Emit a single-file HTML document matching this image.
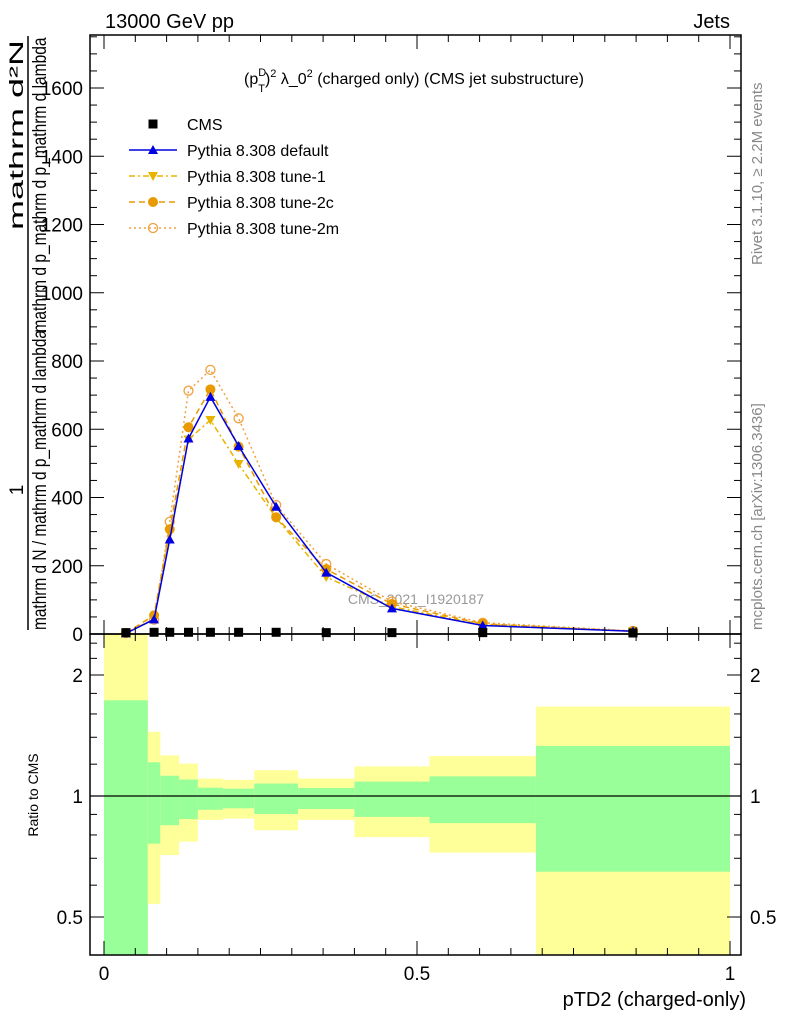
<!DOCTYPE html>
<html><head><meta charset="utf-8"><style>
body{margin:0;background:#fff;font-family:"Liberation Sans",sans-serif}
svg text{font-family:"Liberation Sans",sans-serif}
</style></head><body>
<svg id="c" width="786" height="1024" xmlns="http://www.w3.org/2000/svg">
<text x="105" y="28" font-size="20">13000 GeV pp</text>
<text x="730" y="28" font-size="20" text-anchor="end">Jets</text>
<text x="414" y="84" font-size="16" text-anchor="middle">(p<tspan font-size="11" dy="-8">D</tspan><tspan font-size="11" dx="-8" dy="16">T</tspan><tspan dy="-8">)</tspan><tspan font-size="11" dy="-7">2</tspan><tspan dy="7"> λ_0</tspan><tspan font-size="11" dy="-7">2</tspan><tspan dy="7"> (charged only) (CMS jet substructure)</tspan></text>
<g>
<text transform="translate(23,135) rotate(-90)" font-size="19" text-anchor="middle" textLength="190" lengthAdjust="spacingAndGlyphs">mathrm d²N</text>
<text transform="translate(46,185) rotate(-90)" font-size="19" text-anchor="middle" textLength="295" lengthAdjust="spacingAndGlyphs">mathrm d p_mathrm d p_mathrm d lambda</text>
<text transform="translate(23,490) rotate(-90)" font-size="19" text-anchor="middle">1</text>
<text transform="translate(46,480) rotate(-90)" font-size="19" text-anchor="middle" textLength="300" lengthAdjust="spacingAndGlyphs">mathrm d N / mathrm d p_mathrm d lambda</text>
</g>
<line x1="28" y1="36" x2="28" y2="630" stroke="#000" stroke-width="1.5"/>
<text transform="translate(762,265) rotate(-90)" font-size="15" fill="#888">Rivet 3.1.10, ≥ 2.2M events</text>
<text transform="translate(762,630) rotate(-90)" font-size="15" fill="#888">mcplots.cern.ch [arXiv:1306.3436]</text>
<text x="416" y="604" font-size="14" fill="#999" text-anchor="middle">CMS_2021_I1920187</text>
<text transform="translate(38,795) rotate(-90)" font-size="14" text-anchor="middle">Ratio to CMS</text>
<text x="746" y="1006" font-size="20" text-anchor="end">pTD2 (charged-only)</text>
<g id="ratio"></g><g id="main"></g><g id="axes"></g><g id="legend"></g>
</svg>
<script>
const edges=[0,0.07,0.09,0.12,0.15,0.19,0.24,0.31,0.40,0.52,0.69,1.0];
const centers=[0.035,0.08,0.105,0.135,0.17,0.215,0.275,0.355,0.46,0.605,0.845];
const cmsVals=[4,5,5,5,5,5,5,4,4,4,3];
const defVals=[2,43,277,573,695,551,373,180,75,25,8];
const tune1Vals=[2,45,295,570,627,498,340,167,80,28,8];
const tune2cVals=[3,55,307,606,717,549,342,190,88,30,8];
const tune2mVals=[3,42,329,713,774,632,378,205,95,33,9];
const yelHi=[3,1.445,1.262,1.204,1.105,1.097,1.159,1.105,1.185,1.257,1.669];
const grnHi=[1.73,1.213,1.123,1.099,1.049,1.043,1.074,1.047,1.086,1.119,1.332];
const grnLo=[0.3,0.761,0.846,0.876,0.924,0.932,0.902,0.928,0.887,0.856,0.648];
const yelLo=[0.3,0.539,0.713,0.770,0.872,0.879,0.822,0.872,0.790,0.723,0.3];
const yTicks=[0,200,400,600,800,1000,1200,1400,1600];
const xTicks=[0,0.5,1];
const rTicks=[0.5,1,2];

const NS="http://www.w3.org/2000/svg";
const L=90,R=741,T=35,MB=634,RB=955;
const X=v=>104+v*626;
const Y=v=>634-v*0.34125;
const RY=v=>{let y=796-Math.log2(v)*121;return Math.max(634,Math.min(955,y));};
function mk(p,t,a){const e=document.createElementNS(NS,t);for(const k in a)e.setAttribute(k,a[k]);p.appendChild(e);return e;}
const ratio=document.getElementById('ratio'),main=document.getElementById('main'),axes=document.getElementById('axes'),leg=document.getElementById('legend');

for(let i=0;i<centers.length;i++){
 const x0=X(edges[i]),x1=X(edges[i+1]);
 const y=mk(ratio,'rect',{x:x0,y:RY(yelHi[i]),width:x1-x0,height:RY(yelLo[i])-RY(yelHi[i]),fill:'#ffff99'});
 
 
 const g=mk(ratio,'rect',{x:x0,y:RY(grnHi[i]),width:x1-x0,height:RY(grnLo[i])-RY(grnHi[i]),fill:'#99ff99'});
 
 
}
mk(ratio,'line',{x1:L,x2:R,y1:RY(1),y2:RY(1),stroke:'#000','stroke-width':1.3});

const series=[
 {vals:tune2mVals,color:'#f0a040',dash:'2,3',mark:'open',name:'tune-2m'},
 {vals:tune1Vals,color:'#e8b400',dash:'6,3,2,3',mark:'tri-down',name:'tune-1'},
 {vals:tune2cVals,color:'#e89a00',dash:'6,4',mark:'circle',name:'tune-2c'},
 {vals:defVals,color:'#0000e0',dash:'',mark:'tri-up',name:'default'}];
function marker(p,m,x,y,c){
 let e;
 if(m==='tri-up')e=mk(p,'polygon',{points:`${x-5},${y+4} ${x+5},${y+4} ${x},${y-5}`,fill:c});
 else if(m==='tri-down')e=mk(p,'polygon',{points:`${x-5},${y-4} ${x+5},${y-4} ${x},${y+5}`,fill:c});
 else if(m==='circle')e=mk(p,'circle',{cx:x,cy:y,r:5,fill:c});
 else if(m==='open')e=mk(p,'circle',{cx:x,cy:y,r:4.5,fill:'none',stroke:c,'stroke-width':1.3});
 else e=mk(p,'rect',{x:x-4.5,y:y-4.5,width:9,height:9,fill:c});
 return e;
}
series.forEach(s=>{
 const pl=mk(main,'polyline',{points:centers.map((c,i)=>X(c)+','+Y(s.vals[i])).join(' '),fill:'none',stroke:s.color,'stroke-width':1.5,'stroke-dasharray':s.dash});
 
 
 centers.forEach((c,i)=>{
  const m=marker(main,s.mark,X(c),Y(s.vals[i]),s.color);
  
  
 });
});
centers.forEach((c,i)=>{
 const m=marker(main,'sq',X(c),Y(cmsVals[i]),'#000');
 
 
});

mk(axes,'rect',{x:L,y:T,width:R-L,height:MB-T,fill:'none',stroke:'#000','stroke-width':1.5});
mk(axes,'rect',{x:L,y:MB,width:R-L,height:RB-MB,fill:'none',stroke:'#000','stroke-width':1.5});
for(let v=0;v<=1750;v+=50){const y=Y(v);if(y<T)continue;const big=v%200===0;const len=big?14:7;
 mk(axes,'line',{x1:L,x2:L+len,y1:y,y2:y,stroke:'#000'});mk(axes,'line',{x1:R,x2:R-len,y1:y,y2:y,stroke:'#000'});}
yTicks.forEach(v=>{const t=mk(axes,'text',{x:83,y:Y(v)+7,'font-size':19,'text-anchor':'end'});t.textContent=v;
 
 });
for(let v=0;v<=1.0001;v+=0.05){const x=X(v);const big=Math.abs(v*2-Math.round(v*2))<1e-6;const len=big?14:7;
 [MB,RB].forEach(b=>{mk(axes,'line',{x1:x,x2:x,y1:b,y2:b-len,stroke:'#000'});});
 mk(axes,'line',{x1:x,x2:x,y1:T,y2:T+len,stroke:'#000'});mk(axes,'line',{x1:x,x2:x,y1:MB,y2:MB+len,stroke:'#000'});}
xTicks.forEach(v=>{const t=mk(axes,'text',{x:X(v),y:980,'font-size':19,'text-anchor':'middle'});t.textContent=v;
 
 });
[0.4,0.5,0.6,0.7,0.8,0.9,1,1.2,1.4,1.6,1.8,2,2.2,2.4].forEach(v=>{const y=RY(v);const big=rTicks.includes(v);const len=big?14:7;
 mk(axes,'line',{x1:L,x2:L+len,y1:y,y2:y,stroke:'#000'});mk(axes,'line',{x1:R,x2:R-len,y1:y,y2:y,stroke:'#000'});});
rTicks.forEach(v=>{[83,750].forEach((x,k)=>{const t=mk(axes,'text',{x:x,y:RY(v)+7,'font-size':19,'text-anchor':k?'start':'end'});t.textContent=v;
 
 });});

const legItems=[['CMS','#000','','sq'],['Pythia 8.308 default','#0000e0','','tri-up'],['Pythia 8.308 tune-1','#e8b400','6,3,2,3','tri-down'],['Pythia 8.308 tune-2c','#e89a00','6,4','circle'],['Pythia 8.308 tune-2m','#f0a040','2,3','open']];
legItems.forEach((it,i)=>{const y=124+i*26;const g=mk(leg,'g',{});
 
 
 if(it[0]!=='CMS')mk(g,'line',{x1:129,x2:177,y1:y,y2:y,stroke:it[1],'stroke-width':1.5,'stroke-dasharray':it[2]});
 marker(g,it[3],153,y,it[1]);
 const t=mk(g,'text',{x:187,y:y+6,'font-size':16});t.textContent=it[0];});
</script>
</body></html>
